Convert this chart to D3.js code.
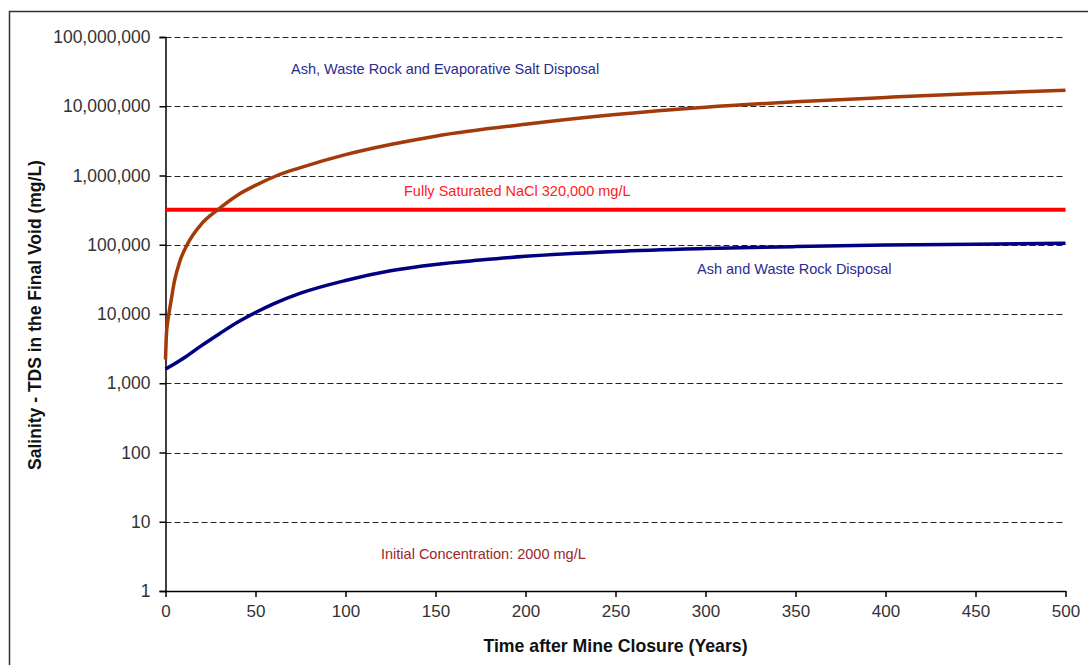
<!DOCTYPE html>
<html><head><meta charset="utf-8">
<script src="https://cdn.jsdelivr.net/npm/d3@7"></script>
<style>
html,body{margin:0;padding:0;background:#fff;}
svg{display:block;font-family:"Liberation Sans",Arial,sans-serif;}
</style></head>
<body><svg id="c" width="1088" height="665"></svg>
<script>
// ---- data ----
const xTicks = [0,50,100,150,200,250,300,350,400,450,500];
const yTicks = [1,10,100,1000,10000,100000,1000000,10000000,100000000];
const saltYears  = [0,0.5,1,2,3,5,8,12,20,29,40,50,62,75,100,125,150,200,250,300,350,400,450,500];
const saltValues = [2200,5000,7000,10500,15000,30000,58000,100000,200000,320000,520000,720000,1000000,1300000,2000000,2800000,3700000,5500000,7600000,9700000,11600000,13400000,15300000,17000000];
const ashYears  = [0,10,20,30,40,50,60,75,100,125,150,175,200,250,300,350,400,450,500];
const ashValues = [1600,2300,3500,5200,7600,10500,14000,20000,30500,42000,52000,60000,68000,80000,88000,94000,99000,102000,105000];
const nacl = 320000;
const labels = {
  salt: "Ash, Waste Rock and Evaporative Salt Disposal",
  ash: "Ash and Waste Rock Disposal",
  nacl: "Fully Saturated NaCl 320,000 mg/L",
  init: "Initial Concentration: 2000 mg/L",
  xTitle: "Time after Mine Closure (Years)",
  yTitle: "Salinity - TDS in the Final Void (mg/L)"
};

const svg = d3.select("#c");
const L=165.5, R=1065.5, T=37, B=591;
const x = d3.scaleLinear().domain([0,500]).range([L,R]);
const y = d3.scaleLog().domain([1,1e8]).range([B,T]);

// frame
svg.append("rect").attr("x",9.5).attr("y",11.5).attr("width",1200).attr("height",800)
  .attr("fill","none").attr("stroke","#333").attr("stroke-width",1.5);

// gridlines
svg.append("g").selectAll("line").data(yTicks.filter(d=>d>1)).join("line")
  .attr("x1",L).attr("x2",R).attr("y1",d=>Math.round(y(d))+0.5).attr("y2",d=>Math.round(y(d))+0.5)
  .attr("stroke","#222").attr("stroke-width",1.2).attr("stroke-dasharray","6,3");

const fmt = d3.format(",");
// y axis
const ya = svg.append("g").attr("transform",`translate(${L},0)`)
  .call(d3.axisLeft(y).tickValues(yTicks).tickFormat(d=>fmt(d)).tickSize(6).tickPadding(9));
ya.select(".domain").attr("stroke","#000").attr("stroke-width",1.5);
ya.selectAll(".tick line").attr("stroke","#000").attr("stroke-width",1.5);
ya.selectAll("text").attr("font-size","17.5px").attr("fill","#333");

// x axis
const xa = svg.append("g").attr("transform",`translate(0,${B})`)
  .call(d3.axisBottom(x).tickValues(xTicks).tickSize(6).tickSizeOuter(0).tickPadding(8));
xa.select(".domain").attr("stroke","#000").attr("stroke-width",1.5);
xa.selectAll(".tick line").attr("stroke","#000").attr("stroke-width",1.5);
xa.selectAll("text").attr("font-size","17px").attr("fill","#333");

// NaCl line
svg.append("line").attr("x1",L).attr("x2",R).attr("y1",y(nacl)).attr("y2",y(nacl))
  .attr("stroke","#ff0000").attr("stroke-width",4);

const line = (xs,vs)=>d3.line().x((d,i)=>x(xs[i])).y(d=>y(d)).curve(d3.curveMonotoneX)(vs);
svg.append("path").attr("d",line(ashYears,ashValues)).attr("fill","none")
  .attr("stroke","#000080").attr("stroke-width",3.5);
svg.append("path").attr("d",line(saltYears,saltValues)).attr("fill","none")
  .attr("stroke","#a33a0a").attr("stroke-width",3.5);

// annotations
const ann = (t,xp,yp,c)=>svg.append("text").attr("x",xp).attr("y",yp).attr("fill",c)
  .attr("font-size","14.5px").attr("dominant-baseline","middle").text(t);
ann(labels.salt,291,70,"#2b2b8f");
ann(labels.nacl,404,192,"#ff2020");
ann(labels.ash,697,270,"#2b2b8f");
ann(labels.init,381,555,"#992828");

// titles
svg.append("text").attr("x",(L+R)/2).attr("y",652).attr("text-anchor","middle")
  .attr("font-size","17.7px").attr("font-weight","bold").attr("fill","#111").text(labels.xTitle);
svg.append("text").attr("transform","translate(41,315) rotate(-90)").attr("text-anchor","middle")
  .attr("font-size","17.5px").attr("font-weight","bold").attr("fill","#111").text(labels.yTitle);
</script></body></html>
